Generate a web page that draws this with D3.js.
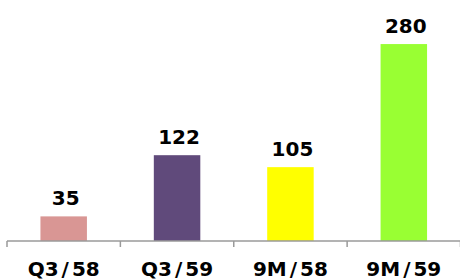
<!DOCTYPE html>
<html>
<head>
<meta charset="utf-8">
<script src="https://cdn.jsdelivr.net/npm/d3@7"></script>
<style>
  body { margin: 0; background: #fff; }
  text { font-family: Verdana, "DejaVu Sans", sans-serif; font-weight: bold; fill: #000; }
</style>
</head>
<body>
<div id="chart"></div>
<script>
const categories = ['Q3/58', 'Q3/59', '9M/58', '9M/59'];
const values = [35, 122, 105, 280];
const barColors = ['#d99694', '#604a7b', '#ffff00', '#99ff33'];

const totalWidth = 460;
const totalHeight = 280;
const baseY = 241;

const x = d3.scaleBand()
  .domain(categories)
  .range([7, 460.5])
  .paddingInner(0.59)
  .paddingOuter(0.295);

const y = d3.scaleLinear()
  .domain([0, 300])
  .range([baseY, 30]);

const svg = d3.select('#chart').append('svg')
  .attr('width', totalWidth)
  .attr('height', totalHeight);

// bars
svg.selectAll('rect.bar')
  .data(values)
  .enter().append('rect')
    .attr('class', 'bar')
    .attr('x', (d, i) => x(categories[i]))
    .attr('y', d => y(d))
    .attr('width', x.bandwidth())
    .attr('height', d => y(0) - y(d))
    .attr('fill', (d, i) => barColors[i]);

// value labels
svg.selectAll('text.val')
  .data(values)
  .enter().append('text')
    .attr('class', 'val')
    .attr('x', (d, i) => x(categories[i]) + x.bandwidth() / 2 + 2)
    .attr('y', d => y(d) - 11)
    .attr('text-anchor', 'middle')
    .style('font-size', '20px')
    .text(d => d);

// axis: labels from d3 axis, ticks at category boundaries
const axis = svg.append('g')
  .attr('transform', `translate(0, ${baseY})`)
  .call(d3.axisBottom(x).tickSize(0).tickPadding(21));
axis.select('.domain').remove();
axis.selectAll('.tick text')
  .style('font-size', '20px')
  .attr('dy', '0.71em')
  .attr('font-family', null)
  .each(function(d) {
    // Verdana-style wide slash: open up the gap around '/'
    const parts = d.split('/');
    const t = d3.select(this).text(null);
    t.append('tspan').text(parts[0]);
    t.append('tspan').attr('dx', 3).text('/');
    t.append('tspan').attr('dx', 3).text(parts[1]);
  });

const edge = (x.step() - x.bandwidth()) / 2;
const bounds = categories.map(c => x(c) - edge).concat([x(categories[categories.length - 1]) + x.bandwidth() + edge]);

svg.append('line')
  .attr('x1', bounds[0]).attr('x2', bounds[bounds.length - 1])
  .attr('y1', baseY).attr('y2', baseY)
  .attr('stroke', '#9a9a9a')
  .attr('stroke-width', 1.5);

svg.selectAll('line.tk')
  .data(bounds)
  .enter().append('line')
    .attr('class', 'tk')
    .attr('x1', d => d).attr('x2', d => d)
    .attr('y1', baseY).attr('y2', baseY + 6)
    .attr('stroke', '#9a9a9a')
    .attr('stroke-width', 1.5);
</script>
</body>
</html>
